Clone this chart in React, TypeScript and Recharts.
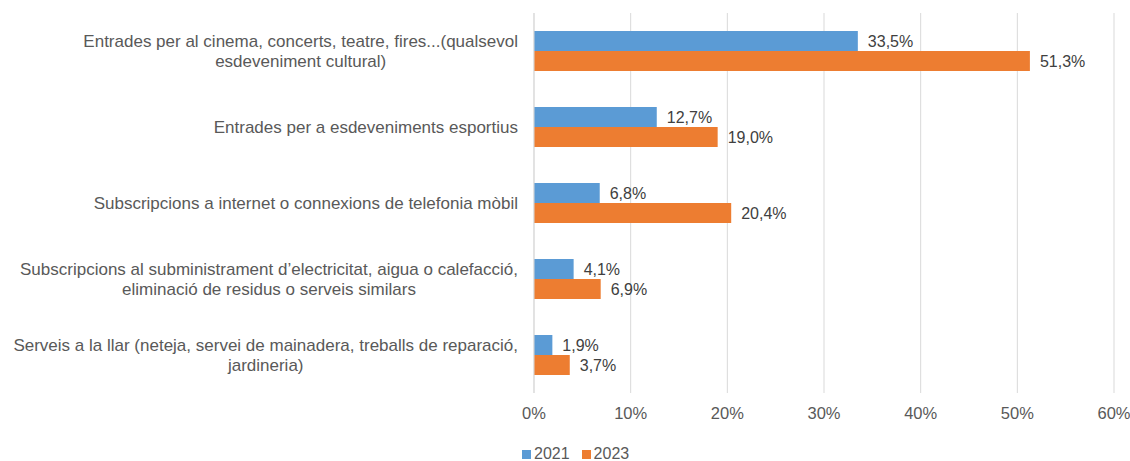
import React from "react"
import { Bar, BarChart, CartesianGrid, LabelList, Legend, XAxis, YAxis } from "recharts"

const categories = [
  "Entrades per al cinema, concerts, teatre, fires...(qualsevol\nesdeveniment cultural)",
  "Entrades per a esdeveniments esportius",
  "Subscripcions a internet o connexions de telefonia mòbil",
  "Subscripcions al subministrament d’electricitat, aigua o calefacció,\neliminació de residus o serveis similars",
  "Serveis a la llar (neteja, servei de mainadera, treballs de reparació,\njardineria)",
]
const values2021 = [33.5, 12.7, 6.8, 4.1, 1.9]
const values2023 = [51.3, 19.0, 20.4, 6.9, 3.7]
const xTicks = [0, 10, 20, 30, 40, 50, 60]
const seriesNames = ["2021", "2023"]

const data = categories.map((name, i) => ({ name, v2021: values2021[i], v2023: values2023[i] }))

const FONT = '"Liberation Sans", Arial, sans-serif'
const TEXT = "#595959"
const BLUE = "#5B9BD5"
const ORANGE = "#ED7D31"
const CAT_SIZE = 17

let ctx: CanvasRenderingContext2D | null = null
function measure(s: string) {
  if (!ctx) ctx = document.createElement("canvas").getContext("2d")
  if (!ctx) return s.length * CAT_SIZE * 0.5
  ctx.font = `${CAT_SIZE}px ${FONT}`
  return ctx.measureText(s).width
}

function CategoryTick(props: any) {
  const { x, y, payload } = props
  const lines: string[] = String(payload.value).split("\n")
  const w = Math.max(...lines.map(measure))
  const cx = x - w / 2
  const lh = 20.5
  const top = y - ((lines.length - 1) * lh) / 2
  return (
    <text x={cx} y={top} textAnchor="middle" fill={TEXT} fontSize={CAT_SIZE} fontFamily={FONT}>
      {lines.map((l, i) => (
        <tspan key={i} x={cx} y={top + i * lh} dy="0.36em">
          {l}
        </tspan>
      ))}
    </text>
  )
}

function LegendContent() {
  const colors = [BLUE, ORANGE]
  return (
    <div style={{ height: 20, position: "relative" }}>
      <div style={{ display: "flex", position: "absolute", left: 522, top: 3, alignItems: "center", fontFamily: FONT, fontSize: 16, color: TEXT, lineHeight: "20px" }}>
        {seriesNames.map((n, i) => (
          <div key={n} style={{ display: "flex", alignItems: "center", marginRight: 12 }}>
            <span style={{ width: 9, height: 9, background: colors[i], display: "inline-block", marginRight: 3 }} />
            <span>{n}</span>
          </div>
        ))}
      </div>
    </div>
  )
}

const fmt = (v: any) => `${Number(v).toFixed(1).replace(".", ",")}%`

export default function App() {
  return (
    <div style={{ position: "absolute", left: 0, top: 0, background: "#fff" }}>
      <BarChart
        width={1130}
        height={461}
        data={data}
        layout="vertical"
        margin={{ top: 13, right: 16, left: 0, bottom: 0 }}
        barGap={0}
        barSize={20}
      >
        <CartesianGrid horizontal={false} stroke="#d9d9d9" />
        <XAxis
          type="number"
          domain={[0, 60]}
          ticks={xTicks}
          tickFormatter={(v) => `${v}%`}
          axisLine={false}
          tickLine={false}
          tickSize={0}
          tickMargin={14}
          height={48}
          interval={0}
          tick={{ fill: TEXT, fontSize: 16.5, fontFamily: FONT }}
        />
        <YAxis
          type="category"
          dataKey="name"
          width={534}
          axisLine={{ stroke: "#d9d9d9" }}
          tickLine={false}
          tickSize={0}
          tickMargin={16}
          interval={0}
          tick={<CategoryTick />}
        />
        <Legend verticalAlign="bottom" height={20} content={<LegendContent />} />
        <Bar dataKey="v2021" name="2021" fill={BLUE} isAnimationActive={false}>
          <LabelList dataKey="v2021" position="right" offset={10} formatter={fmt} fill="#404040" fontSize={16} fontFamily={FONT} />
        </Bar>
        <Bar dataKey="v2023" name="2023" fill={ORANGE} isAnimationActive={false}>
          <LabelList dataKey="v2023" position="right" offset={10} formatter={fmt} fill="#404040" fontSize={16} fontFamily={FONT} />
        </Bar>
      </BarChart>
    </div>
  )
}
